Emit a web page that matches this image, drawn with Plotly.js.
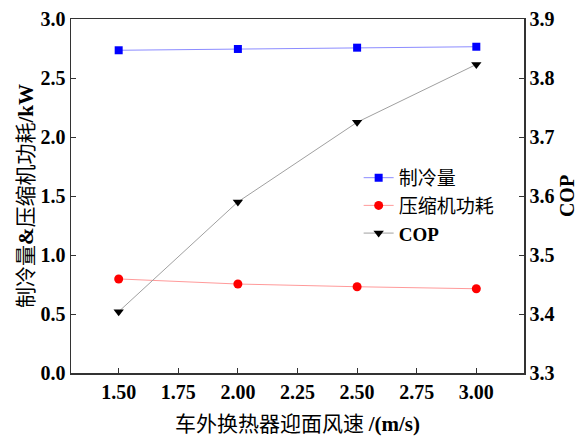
<!DOCTYPE html>
<html><head><meta charset="utf-8">
<script src="https://cdn.plot.ly/plotly-3.0.1.min.js"></script>
<style>html,body{margin:0;padding:0;background:#fff}#chart{width:582px;height:438px}</style>
</head><body><div id="chart"></div>
<script>
const windSpeed = [1.5, 2.0, 2.5, 3.0];
const coolingCapacity = [2.735, 2.746, 2.757, 2.765];
const compressorPower = [0.797, 0.754, 0.731, 0.714];
const cop = [3.404, 3.590, 3.725, 3.823];
const names = ['制冷量', '压缩机功耗', 'COP'];
const xTicks = [1.5, 1.75, 2.0, 2.25, 2.5, 2.75, 3.0];
const xTickText = ['1.50', '1.75', '2.00', '2.25', '2.50', '2.75', '3.00'];
const yTicks = [0, 0.5, 1.0, 1.5, 2.0, 2.5, 3.0];
const y2Ticks = [3.3, 3.4, 3.5, 3.6, 3.7, 3.8, 3.9];

const serif = 'Liberation Serif, Times New Roman, serif';
const cjk = 'Noto Sans CJK SC, sans-serif';

const traces = [
  {x: windSpeed, y: coolingCapacity, name: names[0], type: 'scatter', mode: 'lines+markers',
   line: {color: '#8c8cff', width: 1}, marker: {symbol: 'square', size: 8, color: '#0000ff'}},
  {x: windSpeed, y: compressorPower, name: names[1], type: 'scatter', mode: 'lines+markers',
   line: {color: '#ff9a9a', width: 1}, marker: {symbol: 'circle', size: 9, color: '#ff0000'}},
  {x: windSpeed, y: cop, name: '<b style="font-family:' + serif + '">' + names[2] + '</b>', type: 'scatter', mode: 'lines+markers', yaxis: 'y2',
   line: {color: '#a0a0a0', width: 1}, marker: {symbol: 'triangle-down', size: 9, color: '#000000'}}
];

const layout = {
  width: 582, height: 438,
  margin: {l: 71, r: 58, t: 19, b: 65},
  paper_bgcolor: '#fff', plot_bgcolor: '#fff',
  showlegend: true,
  legend: {x: 0.635, y: 0.605, xanchor: 'left', yanchor: 'top', bgcolor: 'rgba(0,0,0,0)',
           font: {family: cjk, size: 19, color: '#000'}, tracegroupgap: 0, itemwidth: 30},
  xaxis: {range: [1.3, 3.2], tickvals: xTicks, ticktext: xTickText, ticks: 'inside', ticklen: 5,
          tickcolor: '#333', showline: true, linecolor: '#333', linewidth: 1.5, mirror: true,
          showgrid: false, zeroline: false,
          tickfont: {family: serif, size: 20, color: '#000', weight: 'bold'},
          title: {text: '车外换热器迎面风速 <b style="font-family:' + serif + '">/(m/s)</b>',
                  font: {family: cjk, size: 21, color: '#000'}, standoff: 15}},
  yaxis: {range: [0, 3.0], tickvals: yTicks, ticktext: yTicks.map(v => v.toFixed(1)), ticks: 'inside', ticklen: 5,
          tickcolor: '#333', showline: true, linecolor: '#333', linewidth: 1.5,
          showgrid: false, zeroline: false,
          tickfont: {family: serif, size: 20, color: '#000', weight: 'bold'},
          title: {text: '制冷量<b style="font-family:' + serif + '">&amp;</b>压缩机功耗<b style="font-family:' + serif + '">/kW</b>',
                  font: {family: cjk, size: 21, color: '#000'}, standoff: 1}},
  yaxis2: {range: [3.3, 3.9], tickvals: y2Ticks, ticktext: y2Ticks.map(v => v.toFixed(1)), overlaying: 'y', side: 'right',
           ticks: 'inside', ticklen: 5, tickcolor: '#333', showline: true, linecolor: '#333', linewidth: 1.5,
           showgrid: false, zeroline: false,
           tickfont: {family: serif, size: 20, color: '#000', weight: 'bold'},
           title: {text: '<b>COP</b>', font: {family: serif, size: 20, color: '#000'}, standoff: 6}}
};

Plotly.newPlot('chart', traces, layout, {displayModeBar: false, staticPlot: true});
</script>
</body></html>
